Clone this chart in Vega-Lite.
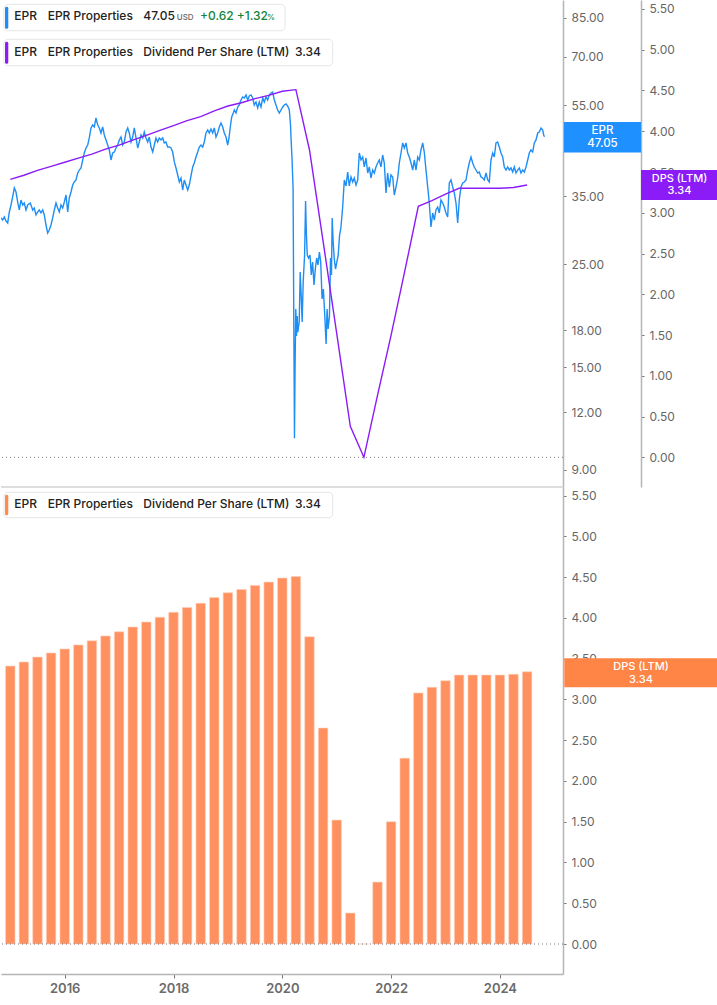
{
  "$schema": "https://vega.github.io/schema/vega-lite/v6.json",
  "padding": 0,
  "background": "white",
  "spacing": 0,
  "bounds": "flush",
  "config": {
    "view": {"stroke": null},
    "font": "Inter",
    "scale": {"continuousPadding": 0},
    "axis": {"labelFont": "Inter", "labelColor": "#666666", "labelFontSize": 12, "domainColor": "#b5b5b5", "domainWidth": 1.5, "tickColor": "#777777", "tickSize": 3, "tickWidth": 1, "grid": false, "labelPadding": 5, "zindex": 0}
  },
  "datasets": {
    "price": [
      {"t":2014.829,"p":31.45},{"t":2014.860,"p":31.13},{"t":2014.890,"p":31.61},{"t":2014.921,"p":30.98},{"t":2014.952,"p":30.67},{"t":2014.982,"p":32.40},{"t":2015.013,"p":33.54},{"t":2015.050,"p":35.25},{"t":2015.074,"p":36.49},{"t":2015.105,"p":35.77},{"t":2015.136,"p":34.04},{"t":2015.165,"p":32.72},{"t":2015.197,"p":34.38},{"t":2015.228,"p":33.54},{"t":2015.257,"p":33.87},{"t":2015.289,"p":32.72},{"t":2015.320,"p":33.54},{"t":2015.368,"p":33.87},{"t":2015.412,"p":32.72},{"t":2015.441,"p":33.04},{"t":2015.472,"p":31.92},{"t":2015.504,"p":32.40},{"t":2015.533,"p":32.72},{"t":2015.564,"p":32.24},{"t":2015.596,"p":32.72},{"t":2015.625,"p":31.92},{"t":2015.656,"p":30.37},{"t":2015.687,"p":29.19},{"t":2015.717,"p":29.63},{"t":2015.748,"p":30.37},{"t":2015.779,"p":31.45},{"t":2015.809,"p":32.72},{"t":2015.840,"p":33.87},{"t":2015.871,"p":33.04},{"t":2015.901,"p":32.40},{"t":2015.932,"p":33.54},{"t":2015.963,"p":33.04},{"t":2015.993,"p":34.04},{"t":2016.024,"p":35.25},{"t":2016.055,"p":32.40},{"t":2016.084,"p":34.73},{"t":2016.116,"p":35.77},{"t":2016.147,"p":37.04},{"t":2016.176,"p":37.60},{"t":2016.208,"p":37.97},{"t":2016.239,"p":39.31},{"t":2016.268,"p":39.90},{"t":2016.300,"p":40.31},{"t":2016.331,"p":41.94},{"t":2016.360,"p":43.42},{"t":2016.391,"p":44.51},{"t":2016.423,"p":45.18},{"t":2016.452,"p":46.78},{"t":2016.483,"p":49.16},{"t":2016.515,"p":49.90},{"t":2016.544,"p":49.41},{"t":2016.575,"p":51.67},{"t":2016.607,"p":49.90},{"t":2016.636,"p":49.16},{"t":2016.667,"p":47.95},{"t":2016.698,"p":49.41},{"t":2016.728,"p":47.48},{"t":2016.759,"p":46.32},{"t":2016.790,"p":45.18},{"t":2016.820,"p":44.07},{"t":2016.851,"p":41.94},{"t":2016.882,"p":43.42},{"t":2016.912,"p":43.63},{"t":2016.943,"p":44.51},{"t":2016.974,"p":45.18},{"t":2017.004,"p":46.32},{"t":2017.035,"p":47.01},{"t":2017.066,"p":45.18},{"t":2017.096,"p":45.86},{"t":2017.127,"p":48.19},{"t":2017.158,"p":49.16},{"t":2017.187,"p":47.95},{"t":2017.219,"p":45.86},{"t":2017.250,"p":47.01},{"t":2017.279,"p":49.16},{"t":2017.311,"p":46.78},{"t":2017.342,"p":44.51},{"t":2017.371,"p":45.86},{"t":2017.403,"p":47.48},{"t":2017.434,"p":46.78},{"t":2017.463,"p":48.19},{"t":2017.494,"p":46.78},{"t":2017.526,"p":45.86},{"t":2017.555,"p":47.01},{"t":2017.586,"p":44.73},{"t":2017.618,"p":43.63},{"t":2017.647,"p":45.18},{"t":2017.678,"p":46.78},{"t":2017.709,"p":45.86},{"t":2017.739,"p":46.78},{"t":2017.770,"p":46.32},{"t":2017.801,"p":46.78},{"t":2017.831,"p":45.64},{"t":2017.862,"p":45.86},{"t":2017.893,"p":44.73},{"t":2017.923,"p":44.73},{"t":2017.954,"p":44.51},{"t":2017.985,"p":43.63},{"t":2018.015,"p":41.53},{"t":2018.046,"p":40.31},{"t":2018.077,"p":38.93},{"t":2018.107,"p":37.60},{"t":2018.138,"p":38.35},{"t":2018.169,"p":36.13},{"t":2018.198,"p":37.97},{"t":2018.230,"p":37.04},{"t":2018.261,"p":36.13},{"t":2018.290,"p":37.04},{"t":2018.322,"p":38.74},
      {"t":2018.353,"p":40.51},{"t":2018.382,"p":41.32},{"t":2018.413,"p":42.57},{"t":2018.445,"p":43.63},{"t":2018.474,"p":44.73},{"t":2018.505,"p":45.18},{"t":2018.537,"p":44.73},{"t":2018.566,"p":45.86},{"t":2018.597,"p":47.95},{"t":2018.629,"p":48.67},{"t":2018.658,"p":47.95},{"t":2018.689,"p":48.92},{"t":2018.720,"p":47.95},{"t":2018.750,"p":49.16},{"t":2018.781,"p":47.01},{"t":2018.812,"p":47.95},{"t":2018.842,"p":49.41},{"t":2018.873,"p":50.39},{"t":2018.904,"p":49.41},{"t":2018.934,"p":47.95},{"t":2018.965,"p":47.01},{"t":2018.996,"p":45.18},{"t":2019.020,"p":46.78},{"t":2019.044,"p":49.41},{"t":2019.070,"p":51.92},{"t":2019.099,"p":52.96},{"t":2019.118,"p":53.75},{"t":2019.149,"p":52.96},{"t":2019.180,"p":54.56},{"t":2019.209,"p":55.10},{"t":2019.241,"p":56.49},{"t":2019.272,"p":57.34},{"t":2019.301,"p":57.05},{"t":2019.333,"p":57.91},{"t":2019.364,"p":56.49},{"t":2019.393,"p":57.62},{"t":2019.425,"p":57.91},{"t":2019.456,"p":57.05},{"t":2019.485,"p":55.10},{"t":2019.516,"p":55.93},{"t":2019.548,"p":54.29},{"t":2019.577,"p":55.93},{"t":2019.608,"p":54.56},{"t":2019.640,"p":57.05},{"t":2019.669,"p":55.93},{"t":2019.700,"p":57.34},{"t":2019.731,"p":56.49},{"t":2019.761,"p":57.91},{"t":2019.792,"p":58.49},{"t":2019.823,"p":58.78},{"t":2019.853,"p":56.49},{"t":2019.884,"p":55.10},{"t":2019.915,"p":53.75},{"t":2019.945,"p":52.96},{"t":2019.976,"p":53.75},{"t":2020.007,"p":54.56},{"t":2020.037,"p":55.10},{"t":2020.068,"p":55.38},{"t":2020.099,"p":54.83},{"t":2020.129,"p":53.75},{"t":2020.151,"p":49.90},{"t":2020.162,"p":46.32},{"t":2020.180,"p":41.94},{"t":2020.198,"p":36.49},
      {"t":2020.211,"p":19.33},{"t":2020.224,"p":10.54},{"t":2020.235,"p":15.07},{"t":2020.248,"p":20.01},{"t":2020.261,"p":17.50},{"t":2020.274,"p":19.33},{"t":2020.285,"p":17.85},{"t":2020.311,"p":18.76},{"t":2020.329,"p":24.05},{"t":2020.347,"p":21.45},{"t":2020.365,"p":18.76},{"t":2020.384,"p":22.88},{"t":2020.410,"p":26.17},{"t":2020.428,"p":34.21},{"t":2020.441,"p":29.48},{"t":2020.459,"p":26.17},{"t":2020.483,"p":25.78},{"t":2020.509,"p":26.17},{"t":2020.533,"p":23.69},{"t":2020.557,"p":25.28},{"t":2020.583,"p":22.54},{"t":2020.607,"p":24.41},{"t":2020.632,"p":25.78},{"t":2020.656,"p":24.90},{"t":2020.682,"p":26.56},{"t":2020.706,"p":25.28},{"t":2020.731,"p":21.03},{"t":2020.755,"p":22.10},{"t":2020.781,"p":19.33},{"t":2020.805,"p":16.82},{"t":2020.823,"p":20.01},{"t":2020.842,"p":18.12},{"t":2020.867,"p":19.33},{"t":2020.886,"p":25.78},{"t":2020.904,"p":23.69},{"t":2020.917,"p":31.45},{"t":2020.935,"p":27.91},{"t":2020.954,"p":25.78},{"t":2020.978,"p":24.41},{"t":2021.003,"p":25.28},{"t":2021.028,"p":26.17},{"t":2021.053,"p":28.90},{"t":2021.077,"p":29.92},
      {"t":2021.110,"p":33.21},{"t":2021.140,"p":37.97},{"t":2021.171,"p":36.86},{"t":2021.202,"p":39.51},{"t":2021.231,"p":36.86},{"t":2021.263,"p":38.55},{"t":2021.294,"p":37.60},{"t":2021.323,"p":38.35},{"t":2021.355,"p":37.04},{"t":2021.386,"p":37.97},{"t":2021.415,"p":43.42},{"t":2021.447,"p":41.94},{"t":2021.478,"p":42.57},{"t":2021.507,"p":40.51},{"t":2021.538,"p":42.36},{"t":2021.570,"p":39.31},{"t":2021.599,"p":40.51},{"t":2021.630,"p":38.35},{"t":2021.661,"p":39.90},{"t":2021.691,"p":39.31},{"t":2021.722,"p":40.51},{"t":2021.753,"p":41.32},{"t":2021.783,"p":41.94},{"t":2021.814,"p":40.51},{"t":2021.845,"p":42.99},{"t":2021.875,"p":41.32},{"t":2021.906,"p":35.60},{"t":2021.937,"p":39.31},{"t":2021.967,"p":36.67},{"t":2021.998,"p":38.93},{"t":2022.029,"p":38.55},{"t":2022.059,"p":35.25},{"t":2022.090,"p":36.67},{"t":2022.121,"p":38.35},{"t":2022.151,"p":41.32},{"t":2022.182,"p":43.42},{"t":2022.213,"p":45.64},{"t":2022.243,"p":44.51},{"t":2022.274,"p":45.64},{"t":2022.305,"p":43.42},{"t":2022.335,"p":42.57},{"t":2022.366,"p":41.32},{"t":2022.397,"p":39.90},{"t":2022.426,"p":41.94},{"t":2022.458,"p":39.90},{"t":2022.489,"p":42.57},{"t":2022.518,"p":41.94},{"t":2022.549,"p":44.07},{"t":2022.581,"p":45.64},{"t":2022.610,"p":43.63},{"t":2022.641,"p":39.90},{"t":2022.673,"p":36.67},{"t":2022.702,"p":33.87},{"t":2022.733,"p":30.07},{"t":2022.765,"p":32.24},{"t":2022.794,"p":31.13},{"t":2022.825,"p":32.72},{"t":2022.856,"p":33.21},{"t":2022.886,"p":32.24},{"t":2022.917,"p":34.38},{"t":2022.948,"p":33.87},{"t":2022.978,"p":33.21},{"t":2023.009,"p":32.24},{"t":2023.040,"p":31.61},{"t":2023.070,"p":37.41},{"t":2023.101,"p":37.97},{"t":2023.132,"p":36.67},{"t":2023.162,"p":35.60},{"t":2023.193,"p":33.87},{"t":2023.224,"p":30.67},{"t":2023.253,"p":34.38},{"t":2023.285,"p":36.67},{"t":2023.316,"p":37.41},{"t":2023.345,"p":37.60},{"t":2023.377,"p":37.97},{"t":2023.408,"p":39.90},{"t":2023.437,"p":41.32},{"t":2023.469,"p":42.57},{"t":2023.500,"p":41.32},{"t":2023.529,"p":40.51},{"t":2023.561,"p":39.90},{"t":2023.592,"p":39.31},{"t":2023.621,"p":39.51},{"t":2023.653,"p":38.55},{"t":2023.684,"p":38.35},{"t":2023.713,"p":37.97},{"t":2023.745,"p":39.31},{"t":2023.776,"p":37.97},{"t":2023.805,"p":37.60},{"t":2023.836,"p":41.94},{"t":2023.868,"p":43.42},{"t":2023.897,"p":42.57},{"t":2023.928,"p":45.64},{"t":2023.959,"p":45.86},{"t":2023.989,"p":44.73},{"t":2024.020,"p":43.42},{"t":2024.051,"p":42.57},{"t":2024.081,"p":40.51},{"t":2024.112,"p":39.90},{"t":2024.143,"p":40.51},{"t":2024.173,"p":39.90},{"t":2024.204,"p":40.31},{"t":2024.235,"p":39.51},{"t":2024.265,"p":40.51},{"t":2024.296,"p":39.31},{"t":2024.327,"p":39.90},{"t":2024.357,"p":40.31},{"t":2024.388,"p":39.31},{"t":2024.419,"p":39.90},{"t":2024.449,"p":39.51},{"t":2024.480,"p":40.51},{"t":2024.511,"p":41.94},{"t":2024.540,"p":43.42},{"t":2024.571,"p":44.07},{"t":2024.603,"p":43.63},{"t":2024.632,"p":45.64},{"t":2024.664,"p":46.32},{"t":2024.695,"p":47.95},{"t":2024.724,"p":48.19},{"t":2024.756,"p":49.16},{"t":2024.787,"p":48.67},{"t":2024.805,"p":47.48},{"t":2024.820,"p":47.05}
    ],
    "dps": [
      {"t":2015.0,"dps":3.41},{"t":2015.25,"dps":3.46},{"t":2015.5,"dps":3.52},{"t":2015.75,"dps":3.57},
      {"t":2016.0,"dps":3.62},{"t":2016.25,"dps":3.67},{"t":2016.5,"dps":3.72},{"t":2016.75,"dps":3.78},
      {"t":2017.0,"dps":3.83},{"t":2017.25,"dps":3.89},{"t":2017.5,"dps":3.95},{"t":2017.75,"dps":4.01},
      {"t":2018.0,"dps":4.07},{"t":2018.25,"dps":4.13},{"t":2018.5,"dps":4.18},{"t":2018.75,"dps":4.25},
      {"t":2019.0,"dps":4.31},{"t":2019.25,"dps":4.35},{"t":2019.5,"dps":4.40},{"t":2019.75,"dps":4.44},
      {"t":2020.0,"dps":4.49},{"t":2020.25,"dps":4.51},{"t":2020.5,"dps":3.77},{"t":2020.75,"dps":2.65},
      {"t":2021.0,"dps":1.52},{"t":2021.25,"dps":0.38},{"t":2021.5,"dps":0.0},{"t":2021.75,"dps":0.76},
      {"t":2022.0,"dps":1.50},{"t":2022.25,"dps":2.28},{"t":2022.5,"dps":3.08},{"t":2022.75,"dps":3.15},
      {"t":2023.0,"dps":3.23},{"t":2023.25,"dps":3.30},{"t":2023.5,"dps":3.30},{"t":2023.75,"dps":3.30},
      {"t":2024.0,"dps":3.30},{"t":2024.25,"dps":3.31},{"t":2024.5,"dps":3.34}
    ]
  },
  "vconcat": [
    {
      "width": 562,
      "height": 487,
      "resolve": {"scale": {"y": "independent"}, "axis": {"y": "independent"}},
      "layer": [
        {
          "data": {"name": "price"},
          "layer": [
            {
              "mark": {"type": "line", "color": "#1E8EF5", "strokeWidth": 1.4, "clip": true},
              "encoding": {
                "x": {"field": "t", "type": "quantitative", "scale": {"domain": [2014.829, 2025.16], "nice": false, "zero": false, "padding": 0}, "axis": null},
                "y": {"field": "p", "type": "quantitative", "scale": {"type": "log", "domain": [8.27, 92.81], "nice": false, "padding": 0}, "axis": {"orient": "right", "values": [9, 12, 15, 18, 25, 35, 45, 55, 70, 85], "format": ".2f", "title": null}}
              }
            },
            {
              "data": {"values": [{"label": "EPR"}]},
              "mark": {"type": "rect", "color": "#1E90FF"},
              "encoding": {
                "x": {"datum": 2025.178, "scale": {"domain": [2014.829, 2025.16], "nice": false, "zero": false, "padding": 0}, "axis": null},
                "x2": {"datum": 2026.594},
                "y": {"datum": 50.64, "scale": {"type": "log", "domain": [8.27, 92.81], "nice": false, "padding": 0}},
                "y2": {"datum": 43.53}
              }
            },
            {
              "data": {"values": [{"label": "EPR"}]},
              "mark": {"type": "text", "align": "center", "baseline": "middle", "fontSize": 11.5, "fontWeight": 500, "color": "white"},
              "encoding": {
                "text": {"field": "label", "type": "nominal"},
                "x": {"datum": 2025.886, "scale": {"domain": [2014.829, 2025.16], "nice": false, "zero": false, "padding": 0}, "axis": null},
                "y": {"datum": 48.55, "scale": {"type": "log", "domain": [8.27, 92.81], "nice": false, "padding": 0}}
              }
            },
            {
              "data": {"values": [{"label": "47.05"}]},
              "mark": {"type": "text", "align": "center", "baseline": "middle", "fontSize": 11.5, "fontWeight": 500, "color": "white"},
              "encoding": {
                "text": {"field": "label", "type": "nominal"},
                "x": {"datum": 2025.886, "scale": {"domain": [2014.829, 2025.16], "nice": false, "zero": false, "padding": 0}, "axis": null},
                "y": {"datum": 45.5, "scale": {"type": "log", "domain": [8.27, 92.81], "nice": false, "padding": 0}}
              }
            }
          ]
        },
        {
          "data": {"name": "dps"},
          "layer": [
            {
              "mark": {"type": "line", "color": "#8B1CF7", "strokeWidth": 1.4},
              "encoding": {
                "x": {"field": "t", "type": "quantitative", "scale": {"domain": [2014.829, 2025.16], "nice": false, "zero": false, "padding": 0}, "axis": null},
                "y": {"field": "dps", "type": "quantitative", "scale": {"domain": [-0.364, 5.61], "nice": false, "zero": false, "padding": 0}, "axis": {"orient": "right", "offset": 78, "values": [0, 0.5, 1, 1.5, 2, 2.5, 3, 3.5, 4, 4.5, 5, 5.5], "format": ".2f", "title": null}}
              }
            },
            {
              "data": {"values": [{"v": 0}]},
              "mark": {"type": "rule", "color": "#777777", "strokeDash": [1, 3], "strokeWidth": 1},
              "encoding": {
                "y": {"field": "v", "type": "quantitative", "scale": {"domain": [-0.364, 5.61], "nice": false, "zero": false, "padding": 0}}
              }
            },
            {
              "data": {"values": [{"label": "box"}]},
              "mark": {"type": "rect", "fill": "white", "stroke": "#e6e6e6", "strokeWidth": 1, "cornerRadius": 4},
              "encoding": {
                "x": {"datum": 2014.884, "scale": {"domain": [2014.829, 2025.16], "nice": false, "zero": false, "padding": 0}, "axis": null},
                "x2": {"datum": 2020.05},
                "y": {"datum": 5.557, "scale": {"domain": [-0.364, 5.61], "nice": false, "zero": false, "padding": 0}},
                "y2": {"datum": 5.233}
              }
            },
            {
              "data": {"values": [{"label": "box"}]},
              "mark": {"type": "rect", "fill": "#1E8EF5", "cornerRadius": 1.5},
              "encoding": {
                "x": {"datum": 2014.903, "scale": {"domain": [2014.829, 2025.16], "nice": false, "zero": false, "padding": 0}, "axis": null},
                "x2": {"datum": 2014.963},
                "y": {"datum": 5.528, "scale": {"domain": [-0.364, 5.61], "nice": false, "zero": false, "padding": 0}},
                "y2": {"datum": 5.258}
              }
            },
            {
              "data": {"values": [{"label": "box"}]},
              "mark": {"type": "rect", "fill": "white", "stroke": "#e6e6e6", "strokeWidth": 1, "cornerRadius": 4},
              "encoding": {
                "x": {"datum": 2014.884, "scale": {"domain": [2014.829, 2025.16], "nice": false, "zero": false, "padding": 0}, "axis": null},
                "x2": {"datum": 2020.926},
                "y": {"datum": 5.128, "scale": {"domain": [-0.364, 5.61], "nice": false, "zero": false, "padding": 0}},
                "y2": {"datum": 4.804}
              }
            },
            {
              "data": {"values": [{"label": "box"}]},
              "mark": {"type": "rect", "fill": "#8B1CF7", "cornerRadius": 1.5},
              "encoding": {
                "x": {"datum": 2014.903, "scale": {"domain": [2014.829, 2025.16], "nice": false, "zero": false, "padding": 0}, "axis": null},
                "x2": {"datum": 2014.963},
                "y": {"datum": 5.098, "scale": {"domain": [-0.364, 5.61], "nice": false, "zero": false, "padding": 0}},
                "y2": {"datum": 4.829}
              }
            },
            {
              "data": {"values": [{"label": "EPR"}]},
              "mark": {"type": "text", "align": "left", "baseline": "middle", "fontSize": 12, "fontWeight": 500, "color": "#222222"},
              "encoding": {"text": {"field": "label", "type": "nominal"}, "x": {"datum": 2015.074, "scale": {"domain": [2014.829, 2025.16], "nice": false, "zero": false, "padding": 0}, "axis": null}, "y": {"datum": 5.414, "scale": {"domain": [-0.364, 5.61], "nice": false, "zero": false, "padding": 0}}}
            },
            {
              "data": {"values": [{"label": "EPR Properties"}]},
              "mark": {"type": "text", "align": "left", "baseline": "middle", "fontSize": 12, "fontWeight": 500, "color": "#222222"},
              "encoding": {"text": {"field": "label", "type": "nominal"}, "x": {"datum": 2015.687, "scale": {"domain": [2014.829, 2025.16], "nice": false, "zero": false, "padding": 0}, "axis": null}, "y": {"datum": 5.414, "scale": {"domain": [-0.364, 5.61], "nice": false, "zero": false, "padding": 0}}}
            },
            {
              "data": {"values": [{"label": "47.05"}]},
              "mark": {"type": "text", "align": "left", "baseline": "middle", "fontSize": 12, "fontWeight": 500, "color": "#222222"},
              "encoding": {"text": {"field": "label", "type": "nominal"}, "x": {"datum": 2017.445, "scale": {"domain": [2014.829, 2025.16], "nice": false, "zero": false, "padding": 0}, "axis": null}, "y": {"datum": 5.414, "scale": {"domain": [-0.364, 5.61], "nice": false, "zero": false, "padding": 0}}}
            },
            {
              "data": {"values": [{"label": "USD"}]},
              "mark": {"type": "text", "align": "left", "baseline": "middle", "fontSize": 8, "fontWeight": 500, "color": "#666666"},
              "encoding": {"text": {"field": "label", "type": "nominal"}, "x": {"datum": 2018.059, "scale": {"domain": [2014.829, 2025.16], "nice": false, "zero": false, "padding": 0}, "axis": null}, "y": {"datum": 5.395, "scale": {"domain": [-0.364, 5.61], "nice": false, "zero": false, "padding": 0}}}
            },
            {
              "data": {"values": [{"label": "+0.62"}]},
              "mark": {"type": "text", "align": "left", "baseline": "middle", "fontSize": 12, "fontWeight": 500, "color": "#13843b"},
              "encoding": {"text": {"field": "label", "type": "nominal"}, "x": {"datum": 2018.487, "scale": {"domain": [2014.829, 2025.16], "nice": false, "zero": false, "padding": 0}, "axis": null}, "y": {"datum": 5.414, "scale": {"domain": [-0.364, 5.61], "nice": false, "zero": false, "padding": 0}}}
            },
            {
              "data": {"values": [{"label": "+1.32"}]},
              "mark": {"type": "text", "align": "left", "baseline": "middle", "fontSize": 12, "fontWeight": 500, "color": "#13843b"},
              "encoding": {"text": {"field": "label", "type": "nominal"}, "x": {"datum": 2019.162, "scale": {"domain": [2014.829, 2025.16], "nice": false, "zero": false, "padding": 0}, "axis": null}, "y": {"datum": 5.414, "scale": {"domain": [-0.364, 5.61], "nice": false, "zero": false, "padding": 0}}}
            },
            {
              "data": {"values": [{"label": "%"}]},
              "mark": {"type": "text", "align": "left", "baseline": "middle", "fontSize": 8, "fontWeight": 500, "color": "#13843b"},
              "encoding": {"text": {"field": "label", "type": "nominal"}, "x": {"datum": 2019.72, "scale": {"domain": [2014.829, 2025.16], "nice": false, "zero": false, "padding": 0}, "axis": null}, "y": {"datum": 5.395, "scale": {"domain": [-0.364, 5.61], "nice": false, "zero": false, "padding": 0}}}
            },
            {
              "data": {"values": [{"label": "EPR"}]},
              "mark": {"type": "text", "align": "left", "baseline": "middle", "fontSize": 12, "fontWeight": 500, "color": "#222222"},
              "encoding": {"text": {"field": "label", "type": "nominal"}, "x": {"datum": 2015.074, "scale": {"domain": [2014.829, 2025.16], "nice": false, "zero": false, "padding": 0}, "axis": null}, "y": {"datum": 4.976, "scale": {"domain": [-0.364, 5.61], "nice": false, "zero": false, "padding": 0}}}
            },
            {
              "data": {"values": [{"label": "EPR Properties"}]},
              "mark": {"type": "text", "align": "left", "baseline": "middle", "fontSize": 12, "fontWeight": 500, "color": "#222222"},
              "encoding": {"text": {"field": "label", "type": "nominal"}, "x": {"datum": 2015.687, "scale": {"domain": [2014.829, 2025.16], "nice": false, "zero": false, "padding": 0}, "axis": null}, "y": {"datum": 4.976, "scale": {"domain": [-0.364, 5.61], "nice": false, "zero": false, "padding": 0}}}
            },
            {
              "data": {"values": [{"label": "Dividend Per Share (LTM)"}]},
              "mark": {"type": "text", "align": "left", "baseline": "middle", "fontSize": 12, "fontWeight": 500, "color": "#222222"},
              "encoding": {"text": {"field": "label", "type": "nominal"}, "x": {"datum": 2017.445, "scale": {"domain": [2014.829, 2025.16], "nice": false, "zero": false, "padding": 0}, "axis": null}, "y": {"datum": 4.976, "scale": {"domain": [-0.364, 5.61], "nice": false, "zero": false, "padding": 0}}}
            },
            {
              "data": {"values": [{"label": "3.34"}]},
              "mark": {"type": "text", "align": "left", "baseline": "middle", "fontSize": 12, "fontWeight": 500, "color": "#222222"},
              "encoding": {"text": {"field": "label", "type": "nominal"}, "x": {"datum": 2020.233, "scale": {"domain": [2014.829, 2025.16], "nice": false, "zero": false, "padding": 0}, "axis": null}, "y": {"datum": 4.976, "scale": {"domain": [-0.364, 5.61], "nice": false, "zero": false, "padding": 0}}}
            },
            {
              "data": {"values": [{"label": "box"}]},
              "mark": {"type": "rect", "fill": "#8B1CF7"},
              "encoding": {
                "x": {"datum": 2026.594, "scale": {"domain": [2014.829, 2025.16], "nice": false, "zero": false, "padding": 0}, "axis": null},
                "x2": {"datum": 2028.009},
                "y": {"datum": 3.525, "scale": {"domain": [-0.364, 5.61], "nice": false, "zero": false, "padding": 0}},
                "y2": {"datum": 3.157}
              }
            },
            {
              "data": {"values": [{"label": "DPS (LTM)"}]},
              "mark": {"type": "text", "align": "center", "baseline": "middle", "fontSize": 11, "fontWeight": 500, "color": "white"},
              "encoding": {"text": {"field": "label", "type": "nominal"}, "x": {"datum": 2027.301, "scale": {"domain": [2014.829, 2025.16], "nice": false, "zero": false, "padding": 0}, "axis": null}, "y": {"datum": 3.418, "scale": {"domain": [-0.364, 5.61], "nice": false, "zero": false, "padding": 0}}}
            },
            {
              "data": {"values": [{"label": "3.34"}]},
              "mark": {"type": "text", "align": "center", "baseline": "middle", "fontSize": 11, "fontWeight": 500, "color": "white"},
              "encoding": {"text": {"field": "label", "type": "nominal"}, "x": {"datum": 2027.301, "scale": {"domain": [2014.829, 2025.16], "nice": false, "zero": false, "padding": 0}, "axis": null}, "y": {"datum": 3.268, "scale": {"domain": [-0.364, 5.61], "nice": false, "zero": false, "padding": 0}}}
            }
          ]
        }
      ]
    },
    {
      "width": 562,
      "height": 487,
      "data": {"name": "dps"},
      "layer": [
        {
          "mark": {"type": "bar", "color": "#FF9160", "size": 9.5, "stroke": "#ffd2bd", "strokeWidth": 0.6},
          "encoding": {
            "x": {"field": "t", "type": "quantitative", "scale": {"domain": [2014.829, 2025.16], "nice": false, "zero": false, "padding": 0}, "axis": {"orient": "bottom", "values": [2016, 2018, 2020, 2022, 2024], "format": "d", "labelFontSize": 13, "labelFontWeight": 600, "labelColor": "#6b6b6b", "tickSize": 4, "labelPadding": 4, "title": null}},
            "y": {"field": "dps", "type": "quantitative", "scale": {"domain": [-0.368, 5.607], "nice": false, "zero": false, "padding": 0}, "axis": {"orient": "right", "values": [0, 0.5, 1, 1.5, 2, 2.5, 3, 3.5, 4, 4.5, 5, 5.5], "format": ".2f", "title": null}},
            "y2": {"datum": 0}
          }
        },
        {
          "data": {"values": [{"v": 0}]},
          "mark": {"type": "rule", "color": "#777777", "strokeDash": [1, 3], "strokeWidth": 1},
          "encoding": {
            "y": {"field": "v", "type": "quantitative", "scale": {"domain": [-0.368, 5.607], "nice": false, "zero": false, "padding": 0}}
          }
        },
        {
          "data": {"values": [{"v": 5.607}]},
          "mark": {"type": "rule", "color": "#dddddd", "strokeWidth": 2},
          "encoding": {
            "y": {"field": "v", "type": "quantitative", "scale": {"domain": [-0.368, 5.607], "nice": false, "zero": false, "padding": 0}}
          }
        },
        {
          "data": {"values": [{"label": "box"}]},
          "mark": {"type": "rect", "fill": "white", "stroke": "#e6e6e6", "strokeWidth": 1, "cornerRadius": 4},
          "encoding": {
            "x": {"datum": 2014.884, "scale": {"domain": [2014.829, 2025.16], "nice": false, "zero": false, "padding": 0}},
            "x2": {"datum": 2020.926},
            "y": {"datum": 5.542, "scale": {"domain": [-0.368, 5.607], "nice": false, "zero": false, "padding": 0}},
            "y2": {"datum": 5.23}
          }
        },
        {
          "data": {"values": [{"label": "box"}]},
          "mark": {"type": "rect", "fill": "#FF8A4C", "cornerRadius": 1.5},
          "encoding": {
            "x": {"datum": 2014.903, "scale": {"domain": [2014.829, 2025.16], "nice": false, "zero": false, "padding": 0}},
            "x2": {"datum": 2014.963},
            "y": {"datum": 5.513, "scale": {"domain": [-0.368, 5.607], "nice": false, "zero": false, "padding": 0}},
            "y2": {"datum": 5.26}
          }
        },
        {
          "data": {"values": [{"label": "EPR"}]},
          "mark": {"type": "text", "align": "left", "baseline": "middle", "fontSize": 12, "fontWeight": 500, "color": "#222222"},
          "encoding": {"text": {"field": "label", "type": "nominal"}, "x": {"datum": 2015.074, "scale": {"domain": [2014.829, 2025.16], "nice": false, "zero": false, "padding": 0}}, "y": {"datum": 5.395, "scale": {"domain": [-0.368, 5.607], "nice": false, "zero": false, "padding": 0}}}
        },
        {
          "data": {"values": [{"label": "EPR Properties"}]},
          "mark": {"type": "text", "align": "left", "baseline": "middle", "fontSize": 12, "fontWeight": 500, "color": "#222222"},
          "encoding": {"text": {"field": "label", "type": "nominal"}, "x": {"datum": 2015.687, "scale": {"domain": [2014.829, 2025.16], "nice": false, "zero": false, "padding": 0}}, "y": {"datum": 5.395, "scale": {"domain": [-0.368, 5.607], "nice": false, "zero": false, "padding": 0}}}
        },
        {
          "data": {"values": [{"label": "Dividend Per Share (LTM)"}]},
          "mark": {"type": "text", "align": "left", "baseline": "middle", "fontSize": 12, "fontWeight": 500, "color": "#222222"},
          "encoding": {"text": {"field": "label", "type": "nominal"}, "x": {"datum": 2017.445, "scale": {"domain": [2014.829, 2025.16], "nice": false, "zero": false, "padding": 0}}, "y": {"datum": 5.395, "scale": {"domain": [-0.368, 5.607], "nice": false, "zero": false, "padding": 0}}}
        },
        {
          "data": {"values": [{"label": "3.34"}]},
          "mark": {"type": "text", "align": "left", "baseline": "middle", "fontSize": 12, "fontWeight": 500, "color": "#222222"},
          "encoding": {"text": {"field": "label", "type": "nominal"}, "x": {"datum": 2020.233, "scale": {"domain": [2014.829, 2025.16], "nice": false, "zero": false, "padding": 0}}, "y": {"datum": 5.395, "scale": {"domain": [-0.368, 5.607], "nice": false, "zero": false, "padding": 0}}}
        },
        {
          "data": {"values": [{"label": "box"}]},
          "mark": {"type": "rect", "fill": "#FF8547"},
          "encoding": {
            "x": {"datum": 2025.184, "scale": {"domain": [2014.829, 2025.16], "nice": false, "zero": false, "padding": 0}},
            "x2": {"datum": 2028.009},
            "y": {"datum": 3.505, "scale": {"domain": [-0.368, 5.607], "nice": false, "zero": false, "padding": 0}},
            "y2": {"datum": 3.15}
          }
        },
        {
          "data": {"values": [{"label": "DPS (LTM)"}]},
          "mark": {"type": "text", "align": "center", "baseline": "middle", "fontSize": 11, "fontWeight": 500, "color": "white"},
          "encoding": {"text": {"field": "label", "type": "nominal"}, "x": {"datum": 2026.594, "scale": {"domain": [2014.829, 2025.16], "nice": false, "zero": false, "padding": 0}}, "y": {"datum": 3.397, "scale": {"domain": [-0.368, 5.607], "nice": false, "zero": false, "padding": 0}}}
        },
        {
          "data": {"values": [{"label": "3.34"}]},
          "mark": {"type": "text", "align": "center", "baseline": "middle", "fontSize": 11, "fontWeight": 500, "color": "white"},
          "encoding": {"text": {"field": "label", "type": "nominal"}, "x": {"datum": 2026.594, "scale": {"domain": [2014.829, 2025.16], "nice": false, "zero": false, "padding": 0}}, "y": {"datum": 3.243, "scale": {"domain": [-0.368, 5.607], "nice": false, "zero": false, "padding": 0}}}
        }
      ]
    }
  ]
}
